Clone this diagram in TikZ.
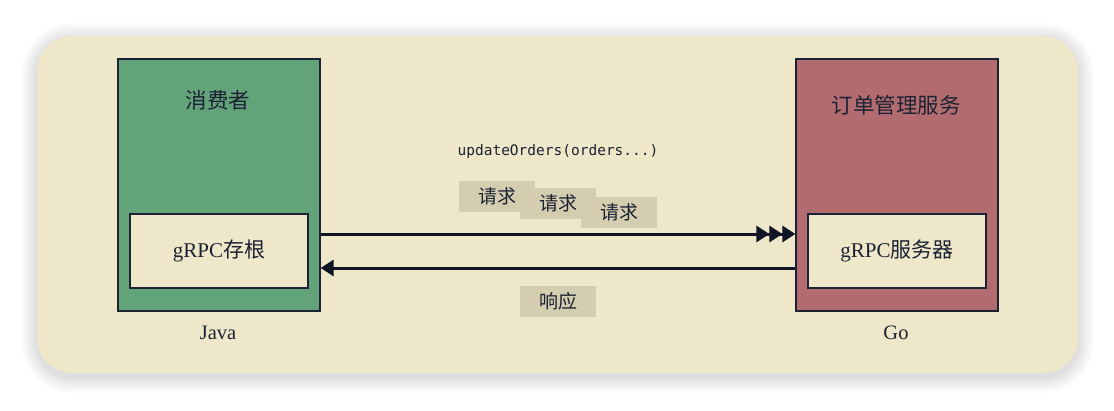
\documentclass[tikz,border=0pt]{standalone}
\usepackage{fontspec}
\setmainfont{Liberation Serif}
\setmonofont{DejaVu Sans Mono}
\newfontfamily\cjk{Noto Sans CJK SC}
\usetikzlibrary{arrows.meta}
\definecolor{bgpaper}{HTML}{EEE7C9}
\definecolor{javagreen}{HTML}{62A37A}
\definecolor{gored}{HTML}{B26C70}
\definecolor{tagtan}{HTML}{D4CDB0}
\definecolor{inkdark}{HTML}{1C2233}
\definecolor{arrowdark}{HTML}{0F1524}
\tikzset{
  outerbox/.style={draw=inkdark, line width=1.3pt, minimum width=202pt, minimum height=252pt, inner sep=0pt},
  innerbox/.style={draw=inkdark, line width=1.3pt, fill=bgpaper, minimum width=178pt, minimum height=74pt, inner sep=0pt, text=inkdark, font=\fontsize{21}{24}\selectfont},
  titletext/.style={text=inkdark, font=\cjk\fontsize{21.5}{25}\selectfont},
  langtext/.style={text=inkdark, font=\fontsize{20.5}{24}\selectfont},
  tag/.style={fill=tagtan, minimum width=76pt, minimum height=31pt, inner sep=0pt, text=inkdark, font=\cjk\fontsize{19}{22}\selectfont},
  flow/.style={draw=arrowdark, line width=3pt},
}
\begin{document}
\begin{tikzpicture}[x=1pt,y=-1pt]
\useasboundingbox (0,0) rectangle (1114,410);
\fill[white] (0,0) rectangle (1114,410);
% soft shadow
\foreach \d in {1,2,...,16}{
  \fill[black, opacity=0.009, rounded corners={35+\d}] (37-\d,36-\d+3) rectangle (1078+\d,373+\d+4);
}
\fill[bgpaper, rounded corners=35] (37,36) rectangle (1078,373);
% left boxes
\node[outerbox, fill=javagreen] (consumer) at (219,185) {};
\node[titletext] (consumerlbl) at (218,100) {消费者};
\node[innerbox] (stub) at (219,251) {gRPC{\cjk 存根}};
\node[langtext] (java) at (218,333) {Java};
% right boxes
\node[outerbox, fill=gored] (service) at (897,185) {};
\node[titletext] (servicelbl) at (896,105) {订单管理服务};
\node[innerbox] (server) at (897,251) {gRPC{\cjk 服务器}};
\node[langtext] (go) at (896,333) {Go};
% arrows
\draw[flow, -{Triangle[length=13pt,width=16pt]Triangle[length=13pt,width=16pt]Triangle[length=13pt,width=16pt]}]
  (consumer.east |- 0,234) -- (service.west |- 0,234);
\draw[flow, -{Triangle[length=13pt,width=16pt]}]
  (service.west |- 0,268) -- (consumer.east |- 0,268);
% labels
\node[text=inkdark, font=\ttfamily\fontsize{14.5}{17}\selectfont] (call) at (558,151) {updateOrders(orders...)};
\node[tag] (req1) at (497,196) {请求};
\node[tag] (req2) at (558,203) {请求};
\node[tag] (req3) at (619,212) {请求};
\node[tag] (resp) at (558,301) {响应};
\end{tikzpicture}
\end{document}
